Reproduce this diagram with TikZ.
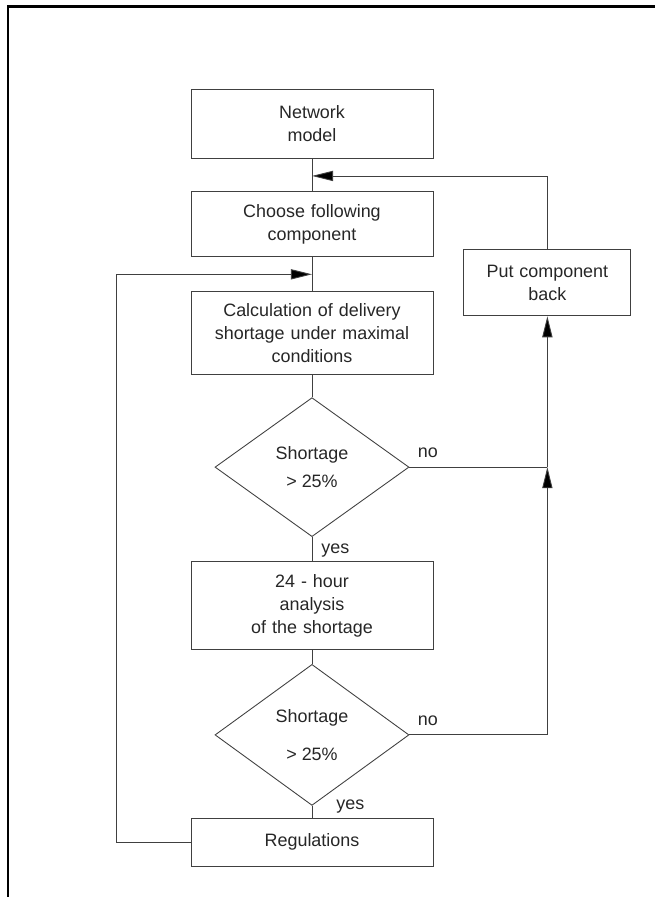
\documentclass[tikz,border=0pt]{standalone}
\usepackage{fontspec}
\setmainfont{Liberation Sans}
\usetikzlibrary{shapes.geometric, arrows.meta, positioning}
\tikzstyle{process} = [rectangle, draw=black!75, line width=0.5pt, text width=4.84cm, inner xsep=0pt, align=center, text=black!85, font=\fontsize{10.2}{13}\selectfont]
\tikzstyle{decision} = [diamond, draw=black!75, line width=0.5pt, minimum width=3.88cm, minimum height=2.78cm, inner sep=0pt, align=center, text=black!85, font=\fontsize{10.2}{13}\selectfont]
\tikzstyle{answer} = [inner sep=0pt, text=black!85, font=\fontsize{10.2}{13}\selectfont]
\tikzstyle{line} = [draw=black!75, line width=0.5pt]
\tikzstyle{arrow} = [-{Triangle[length=12pt, width=5.8pt, fill=black]}, draw=black!75, line width=0.5pt]
\tikzstyle{frame} = [line width=1.5pt, black]

\begin{document}
\begin{tikzpicture}[node distance=0.5cm and 0.6cm]

% page size and frame
\useasboundingbox (-6.24,-15.47) rectangle (6.86,2.47);
\draw[frame] (-6.08,-15.7) -- (-6.08,2.34) -- (7.1,2.34);

% main column, top to bottom
\node[process, minimum height=1.38cm] (model) at (0,0) {Network\\model};
\node[process, minimum height=1.3cm, below=0.66cm of model] (choose) {Choose following\\component};
\node[process, minimum height=1.66cm, below=0.68cm of choose] (calc) {Calculation of delivery\\shortage under maximal\\conditions};
\node[decision, below=0.44cm of calc] (short1) {Shortage\\[3pt]> 25\%};
\node[process, minimum height=1.76cm, below=0.48cm of short1] (analysis) {24 - hour\\analysis\\of the shortage};
\node[decision, minimum height=2.82cm, below=0.28cm of analysis] (short2) {Shortage\\[8.5pt]> 25\%};
\node[process, minimum height=0.96cm, below=0.24cm of short2] (regul) {Regulations};

% side box
\node[process, text width=3.34cm, minimum height=1.32cm, anchor=north west] (back) at ([xshift=0.6cm, yshift=0.16cm]choose.south east) {Put component\\back};

% junction points
\coordinate (join1) at ([yshift=-0.35cm]model.south);
\coordinate (join2) at ([yshift=-0.34cm]choose.south);
\coordinate (join3) at (back.south |- short1.east);
\coordinate (turn) at ([xshift=-1.48cm]regul.west);

% answers
\node[answer, above right=0.18cm and 0.16cm of short1.east] (no1) {no};
\node[answer, below right=0.12cm and 0.18cm of short1.south] (yes1) {yes};
\node[answer, above right=0.18cm and 0.16cm of short2.east] (no2) {no};
\node[answer, right=0.48cm of short2.south, anchor=base west, yshift=-0.08cm] (yes2) {yes};

% main flow
\draw[line] (model) -- (choose);
\draw[line] (choose) -- (calc);
\draw[line] (calc) -- (short1);
\draw[line] (short1) -- (analysis);
\draw[line] (analysis) -- (short2);
\draw[line] (short2) -- (regul);

% "no" branches to the side box
\draw[line] (short1.east) -- (join3);
\draw[arrow] (join3) -- (back);
\draw[arrow] (short2.east) -| (join3);
\draw[arrow] (back) |- (join1);

% loop back from regulations
\draw[arrow] (regul.west) -- (turn) |- (join2);

\end{tikzpicture}
\end{document}
